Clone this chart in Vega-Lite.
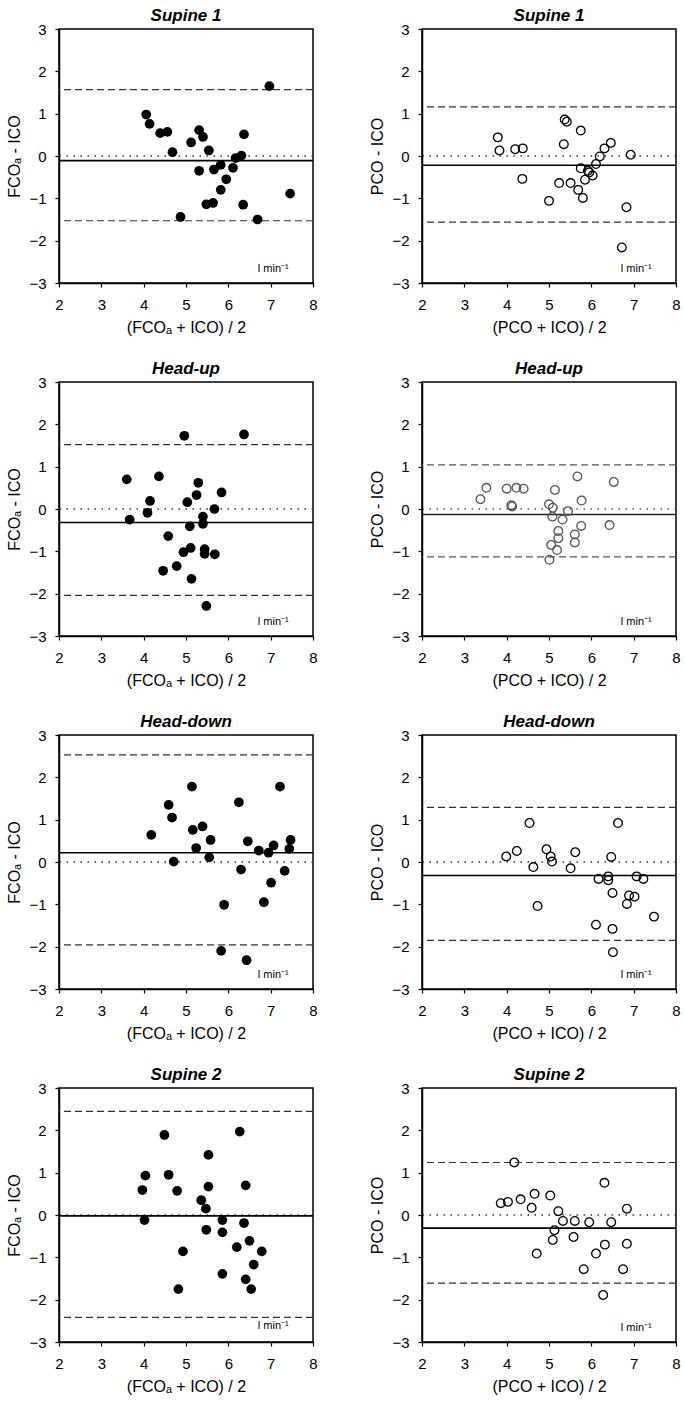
{
  "$schema": "https://vega.github.io/schema/vega-lite/v6.json",
  "background": "white",
  "padding": {"left": 6, "top": 6, "right": 5, "bottom": 5},
  "datasets": {
    "pts": [
      {"panel": "FS1", "x": 4.06, "y": 0.98}, {"panel": "FS1", "x": 4.14, "y": 0.76}, {"panel": "FS1", "x": 4.39, "y": 0.54}, {"panel": "FS1", "x": 4.56, "y": 0.57}, {"panel": "FS1", "x": 4.68, "y": 0.09}, {"panel": "FS1", "x": 4.87, "y": -1.44}, {"panel": "FS1", "x": 5.12, "y": 0.32}, {"panel": "FS1", "x": 5.31, "y": 0.61}, {"panel": "FS1", "x": 5.40, "y": 0.45}, {"panel": "FS1", "x": 5.31, "y": -0.35}, {"panel": "FS1", "x": 5.54, "y": 0.13}, {"panel": "FS1", "x": 5.48, "y": -1.14}, {"panel": "FS1", "x": 5.64, "y": -1.11}, {"panel": "FS1", "x": 5.66, "y": -0.32}, {"panel": "FS1", "x": 5.82, "y": -0.21}, {"panel": "FS1", "x": 5.82, "y": -0.80}, {"panel": "FS1", "x": 5.95, "y": -0.55}, {"panel": "FS1", "x": 6.11, "y": -0.28}, {"panel": "FS1", "x": 6.17, "y": -0.05}, {"panel": "FS1", "x": 6.31, "y": 0.01}, {"panel": "FS1", "x": 6.37, "y": 0.51}, {"panel": "FS1", "x": 6.35, "y": -1.15}, {"panel": "FS1", "x": 6.69, "y": -1.50}, {"panel": "FS1", "x": 6.97, "y": 1.65}, {"panel": "FS1", "x": 7.46, "y": -0.89},
      {"panel": "PS1", "x": 3.79, "y": 0.44}, {"panel": "PS1", "x": 3.83, "y": 0.13}, {"panel": "PS1", "x": 4.20, "y": 0.16}, {"panel": "PS1", "x": 4.38, "y": 0.18}, {"panel": "PS1", "x": 4.37, "y": -0.54}, {"panel": "PS1", "x": 5.00, "y": -1.06}, {"panel": "PS1", "x": 5.24, "y": -0.64}, {"panel": "PS1", "x": 5.35, "y": 0.28}, {"panel": "PS1", "x": 5.37, "y": 0.86}, {"panel": "PS1", "x": 5.42, "y": 0.81}, {"panel": "PS1", "x": 5.51, "y": -0.64}, {"panel": "PS1", "x": 5.69, "y": -0.80}, {"panel": "PS1", "x": 5.75, "y": 0.60}, {"panel": "PS1", "x": 5.75, "y": -0.29}, {"panel": "PS1", "x": 5.80, "y": -0.99}, {"panel": "PS1", "x": 5.85, "y": -0.56}, {"panel": "PS1", "x": 5.92, "y": -0.35}, {"panel": "PS1", "x": 5.95, "y": -0.39}, {"panel": "PS1", "x": 6.03, "y": -0.46}, {"panel": "PS1", "x": 6.11, "y": -0.19}, {"panel": "PS1", "x": 6.20, "y": -0.01}, {"panel": "PS1", "x": 6.31, "y": 0.18}, {"panel": "PS1", "x": 6.46, "y": 0.31}, {"panel": "PS1", "x": 6.93, "y": 0.03}, {"panel": "PS1", "x": 6.83, "y": -1.21}, {"panel": "PS1", "x": 6.72, "y": -2.16},
      {"panel": "FHU", "x": 3.60, "y": 0.70}, {"panel": "FHU", "x": 3.67, "y": -0.25}, {"panel": "FHU", "x": 4.09, "y": -0.09}, {"panel": "FHU", "x": 4.15, "y": 0.19}, {"panel": "FHU", "x": 4.36, "y": 0.77}, {"panel": "FHU", "x": 4.46, "y": -1.46}, {"panel": "FHU", "x": 4.58, "y": -0.64}, {"panel": "FHU", "x": 4.78, "y": -1.35}, {"panel": "FHU", "x": 4.96, "y": 1.73}, {"panel": "FHU", "x": 4.94, "y": -1.02}, {"panel": "FHU", "x": 5.03, "y": 0.16}, {"panel": "FHU", "x": 5.11, "y": -0.92}, {"panel": "FHU", "x": 5.09, "y": -0.41}, {"panel": "FHU", "x": 5.13, "y": -1.65}, {"panel": "FHU", "x": 5.25, "y": 0.33}, {"panel": "FHU", "x": 5.29, "y": 0.62}, {"panel": "FHU", "x": 5.40, "y": -0.18}, {"panel": "FHU", "x": 5.40, "y": -0.35}, {"panel": "FHU", "x": 5.44, "y": -0.95}, {"panel": "FHU", "x": 5.44, "y": -1.06}, {"panel": "FHU", "x": 5.48, "y": -2.29}, {"panel": "FHU", "x": 5.67, "y": 0.00}, {"panel": "FHU", "x": 5.68, "y": -1.07}, {"panel": "FHU", "x": 5.84, "y": 0.39}, {"panel": "FHU", "x": 6.37, "y": 1.76},
      {"panel": "PHU", "x": 3.38, "y": 0.23}, {"panel": "PHU", "x": 3.52, "y": 0.50}, {"panel": "PHU", "x": 4.00, "y": 0.48}, {"panel": "PHU", "x": 4.11, "y": 0.09}, {"panel": "PHU", "x": 4.13, "y": 0.06}, {"panel": "PHU", "x": 4.23, "y": 0.50}, {"panel": "PHU", "x": 4.40, "y": 0.48}, {"panel": "PHU", "x": 5.00, "y": 0.11}, {"panel": "PHU", "x": 5.09, "y": 0.03}, {"panel": "PHU", "x": 5.14, "y": 0.45}, {"panel": "PHU", "x": 5.08, "y": -0.18}, {"panel": "PHU", "x": 5.05, "y": -0.85}, {"panel": "PHU", "x": 5.01, "y": -1.20}, {"panel": "PHU", "x": 5.19, "y": -0.97}, {"panel": "PHU", "x": 5.22, "y": -0.52}, {"panel": "PHU", "x": 5.22, "y": -0.69}, {"panel": "PHU", "x": 5.32, "y": -0.25}, {"panel": "PHU", "x": 5.45, "y": -0.05}, {"panel": "PHU", "x": 5.61, "y": -0.60}, {"panel": "PHU", "x": 5.61, "y": -0.79}, {"panel": "PHU", "x": 5.67, "y": 0.77}, {"panel": "PHU", "x": 5.77, "y": 0.20}, {"panel": "PHU", "x": 5.76, "y": -0.40}, {"panel": "PHU", "x": 6.43, "y": -0.38}, {"panel": "PHU", "x": 6.53, "y": 0.64},
      {"panel": "FHD", "x": 4.18, "y": 0.64}, {"panel": "FHD", "x": 4.59, "y": 1.35}, {"panel": "FHD", "x": 4.67, "y": 1.05}, {"panel": "FHD", "x": 4.71, "y": 0.01}, {"panel": "FHD", "x": 5.14, "y": 1.78}, {"panel": "FHD", "x": 5.16, "y": 0.76}, {"panel": "FHD", "x": 5.24, "y": 0.33}, {"panel": "FHD", "x": 5.39, "y": 0.84}, {"panel": "FHD", "x": 5.58, "y": 0.52}, {"panel": "FHD", "x": 5.55, "y": 0.11}, {"panel": "FHD", "x": 5.90, "y": -1.01}, {"panel": "FHD", "x": 5.83, "y": -2.10}, {"panel": "FHD", "x": 6.25, "y": 1.41}, {"panel": "FHD", "x": 6.30, "y": -0.18}, {"panel": "FHD", "x": 6.46, "y": 0.49}, {"panel": "FHD", "x": 6.72, "y": 0.27}, {"panel": "FHD", "x": 6.95, "y": 0.22}, {"panel": "FHD", "x": 7.07, "y": 0.39}, {"panel": "FHD", "x": 7.01, "y": -0.49}, {"panel": "FHD", "x": 6.84, "y": -0.95}, {"panel": "FHD", "x": 6.43, "y": -2.32}, {"panel": "FHD", "x": 7.22, "y": 1.78}, {"panel": "FHD", "x": 7.33, "y": -0.21}, {"panel": "FHD", "x": 7.47, "y": 0.52}, {"panel": "FHD", "x": 7.44, "y": 0.31},
      {"panel": "PHD", "x": 3.99, "y": 0.13}, {"panel": "PHD", "x": 4.24, "y": 0.26}, {"panel": "PHD", "x": 4.54, "y": 0.92}, {"panel": "PHD", "x": 4.63, "y": -0.12}, {"panel": "PHD", "x": 4.73, "y": -1.04}, {"panel": "PHD", "x": 4.94, "y": 0.30}, {"panel": "PHD", "x": 5.04, "y": 0.13}, {"panel": "PHD", "x": 5.07, "y": 0.01}, {"panel": "PHD", "x": 5.51, "y": -0.15}, {"panel": "PHD", "x": 5.62, "y": 0.23}, {"panel": "PHD", "x": 6.17, "y": -0.40}, {"panel": "PHD", "x": 6.11, "y": -1.48}, {"panel": "PHD", "x": 6.40, "y": -0.34}, {"panel": "PHD", "x": 6.40, "y": -0.43}, {"panel": "PHD", "x": 6.47, "y": 0.12}, {"panel": "PHD", "x": 6.50, "y": -0.73}, {"panel": "PHD", "x": 6.50, "y": -1.58}, {"panel": "PHD", "x": 6.51, "y": -2.13}, {"panel": "PHD", "x": 6.63, "y": 0.92}, {"panel": "PHD", "x": 6.84, "y": -0.99}, {"panel": "PHD", "x": 6.89, "y": -0.79}, {"panel": "PHD", "x": 7.02, "y": -0.82}, {"panel": "PHD", "x": 7.07, "y": -0.34}, {"panel": "PHD", "x": 7.23, "y": -0.40}, {"panel": "PHD", "x": 7.48, "y": -1.29},
      {"panel": "FS2", "x": 3.97, "y": 0.59}, {"panel": "FS2", "x": 4.04, "y": 0.93}, {"panel": "FS2", "x": 4.02, "y": -0.12}, {"panel": "FS2", "x": 4.49, "y": 1.89}, {"panel": "FS2", "x": 4.59, "y": 0.95}, {"panel": "FS2", "x": 4.79, "y": 0.57}, {"panel": "FS2", "x": 4.82, "y": -1.75}, {"panel": "FS2", "x": 4.93, "y": -0.86}, {"panel": "FS2", "x": 5.36, "y": 0.35}, {"panel": "FS2", "x": 5.47, "y": 0.15}, {"panel": "FS2", "x": 5.48, "y": -0.35}, {"panel": "FS2", "x": 5.53, "y": 1.42}, {"panel": "FS2", "x": 5.53, "y": 0.67}, {"panel": "FS2", "x": 5.86, "y": -0.12}, {"panel": "FS2", "x": 5.86, "y": -0.41}, {"panel": "FS2", "x": 5.86, "y": -1.39}, {"panel": "FS2", "x": 6.27, "y": 1.97}, {"panel": "FS2", "x": 6.37, "y": -0.19}, {"panel": "FS2", "x": 6.41, "y": 0.70}, {"panel": "FS2", "x": 6.41, "y": -1.52}, {"panel": "FS2", "x": 6.20, "y": -0.76}, {"panel": "FS2", "x": 6.50, "y": -0.61}, {"panel": "FS2", "x": 6.54, "y": -1.75}, {"panel": "FS2", "x": 6.60, "y": -1.17}, {"panel": "FS2", "x": 6.79, "y": -0.86},
      {"panel": "PS2", "x": 3.86, "y": 0.28}, {"panel": "PS2", "x": 4.03, "y": 0.31}, {"panel": "PS2", "x": 4.33, "y": 0.37}, {"panel": "PS2", "x": 4.18, "y": 1.24}, {"panel": "PS2", "x": 4.59, "y": 0.17}, {"panel": "PS2", "x": 4.66, "y": 0.50}, {"panel": "PS2", "x": 4.71, "y": -0.91}, {"panel": "PS2", "x": 5.03, "y": 0.46}, {"panel": "PS2", "x": 5.22, "y": 0.09}, {"panel": "PS2", "x": 5.33, "y": -0.14}, {"panel": "PS2", "x": 5.13, "y": -0.36}, {"panel": "PS2", "x": 5.09, "y": -0.59}, {"panel": "PS2", "x": 5.61, "y": -0.14}, {"panel": "PS2", "x": 5.58, "y": -0.52}, {"panel": "PS2", "x": 5.82, "y": -1.28}, {"panel": "PS2", "x": 5.95, "y": -0.17}, {"panel": "PS2", "x": 6.11, "y": -0.91}, {"panel": "PS2", "x": 6.31, "y": 0.76}, {"panel": "PS2", "x": 6.32, "y": -0.70}, {"panel": "PS2", "x": 6.28, "y": -1.89}, {"panel": "PS2", "x": 6.47, "y": -0.17}, {"panel": "PS2", "x": 6.84, "y": 0.15}, {"panel": "PS2", "x": 6.84, "y": -0.68}, {"panel": "PS2", "x": 6.75, "y": -1.28}
    ],
    "lines": [
      {"panel": "FS1", "kind": "loa", "y": 1.57}, {"panel": "FS1", "kind": "mean", "y": -0.11}, {"panel": "FS1", "kind": "loa", "y": -1.53},
      {"panel": "PS1", "kind": "loa", "y": 1.16}, {"panel": "PS1", "kind": "mean", "y": -0.22}, {"panel": "PS1", "kind": "loa", "y": -1.56},
      {"panel": "FHU", "kind": "loa", "y": 1.52}, {"panel": "FHU", "kind": "mean", "y": -0.32}, {"panel": "FHU", "kind": "loa", "y": -2.04},
      {"panel": "PHU", "kind": "loa", "y": 1.04}, {"panel": "PHU", "kind": "mean", "y": -0.13}, {"panel": "PHU", "kind": "loa", "y": -1.13},
      {"panel": "FHD", "kind": "loa", "y": 2.53}, {"panel": "FHD", "kind": "mean", "y": 0.22}, {"panel": "FHD", "kind": "loa", "y": -1.96},
      {"panel": "PHD", "kind": "loa", "y": 1.29}, {"panel": "PHD", "kind": "mean", "y": -0.32}, {"panel": "PHD", "kind": "loa", "y": -1.85},
      {"panel": "FS2", "kind": "loa", "y": 2.45}, {"panel": "FS2", "kind": "mean", "y": -0.02}, {"panel": "FS2", "kind": "loa", "y": -2.42},
      {"panel": "PS2", "kind": "loa", "y": 1.24}, {"panel": "PS2", "kind": "mean", "y": -0.31}, {"panel": "PS2", "kind": "loa", "y": -1.61}
    ]
  },
  "columns": 2,
  "spacing": {"row": 23, "column": 51},
  "concat": [
    {
      "title": "Supine 1", "width": 254, "height": 254,
      "layer": [
        {"data": {"values": [{}]}, "mark": {"type": "rule", "strokeDash": [1.5, 5.5], "strokeWidth": 1.3, "color": "#333"}, "encoding": {"y": {"datum": 0, "type": "quantitative"}}},
        {"data": {"name": "lines"}, "transform": [{"filter": "datum.panel === 'FS1' && datum.kind === 'loa'"}], "mark": {"type": "rule", "strokeDash": [7, 4], "strokeWidth": 1.2, "color": "#333"}, "encoding": {"y": {"field": "y", "type": "quantitative"}}},
        {"data": {"name": "lines"}, "transform": [{"filter": "datum.panel === 'FS1' && datum.kind === 'mean'"}], "mark": {"type": "rule", "strokeWidth": 1.6, "color": "#000"}, "encoding": {"y": {"field": "y", "type": "quantitative"}}},
        {"data": {"name": "pts"}, "transform": [{"filter": "datum.panel === 'FS1'"}], "mark": {"type": "circle", "size": 95, "opacity": 1, "color": "#000"},
          "encoding": {"x": {"field": "x", "type": "quantitative", "scale": {"domain": [2, 8]}, "axis": {"title": "(FCOₐ + ICO) / 2"}}, "y": {"field": "y", "type": "quantitative", "scale": {"domain": [-3, 3]}, "axis": {"title": "FCOₐ - ICO"}}}},
        {"data": {"values": [{}]}, "mark": {"type": "text", "fontSize": 11, "color": "#000"}, "encoding": {"x": {"datum": 7.06}, "y": {"datum": -2.67}, "text": {"value": "l min⁻¹"}}}
      ]
    },
    {
      "title": "Supine 1", "width": 254, "height": 254,
      "layer": [
        {"data": {"values": [{}]}, "mark": {"type": "rule", "strokeDash": [1.5, 5.5], "strokeWidth": 1.3, "color": "#333"}, "encoding": {"y": {"datum": 0, "type": "quantitative"}}},
        {"data": {"name": "lines"}, "transform": [{"filter": "datum.panel === 'PS1' && datum.kind === 'loa'"}], "mark": {"type": "rule", "strokeDash": [7, 4], "strokeWidth": 1.2, "color": "#333"}, "encoding": {"y": {"field": "y", "type": "quantitative"}}},
        {"data": {"name": "lines"}, "transform": [{"filter": "datum.panel === 'PS1' && datum.kind === 'mean'"}], "mark": {"type": "rule", "strokeWidth": 1.6, "color": "#000"}, "encoding": {"y": {"field": "y", "type": "quantitative"}}},
        {"data": {"name": "pts"}, "transform": [{"filter": "datum.panel === 'PS1'"}], "mark": {"type": "point", "shape": "circle", "size": 75, "filled": false, "strokeWidth": 1.3, "color": "#000", "opacity": 1},
          "encoding": {"x": {"field": "x", "type": "quantitative", "scale": {"domain": [2, 8]}, "axis": {"title": "(PCO + ICO) / 2"}}, "y": {"field": "y", "type": "quantitative", "scale": {"domain": [-3, 3]}, "axis": {"title": "PCO - ICO"}}}},
        {"data": {"values": [{}]}, "mark": {"type": "text", "fontSize": 11, "color": "#000"}, "encoding": {"x": {"datum": 7.06}, "y": {"datum": -2.67}, "text": {"value": "l min⁻¹"}}}
      ]
    },
    {
      "title": "Head-up", "width": 254, "height": 254,
      "layer": [
        {"data": {"values": [{}]}, "mark": {"type": "rule", "strokeDash": [1.5, 5.5], "strokeWidth": 1.3, "color": "#333"}, "encoding": {"y": {"datum": 0, "type": "quantitative"}}},
        {"data": {"name": "lines"}, "transform": [{"filter": "datum.panel === 'FHU' && datum.kind === 'loa'"}], "mark": {"type": "rule", "strokeDash": [7, 4], "strokeWidth": 1.2, "color": "#333"}, "encoding": {"y": {"field": "y", "type": "quantitative"}}},
        {"data": {"name": "lines"}, "transform": [{"filter": "datum.panel === 'FHU' && datum.kind === 'mean'"}], "mark": {"type": "rule", "strokeWidth": 1.6, "color": "#000"}, "encoding": {"y": {"field": "y", "type": "quantitative"}}},
        {"data": {"name": "pts"}, "transform": [{"filter": "datum.panel === 'FHU'"}], "mark": {"type": "circle", "size": 95, "opacity": 1, "color": "#000"},
          "encoding": {"x": {"field": "x", "type": "quantitative", "scale": {"domain": [2, 8]}, "axis": {"title": "(FCOₐ + ICO) / 2"}}, "y": {"field": "y", "type": "quantitative", "scale": {"domain": [-3, 3]}, "axis": {"title": "FCOₐ - ICO"}}}},
        {"data": {"values": [{}]}, "mark": {"type": "text", "fontSize": 11, "color": "#000"}, "encoding": {"x": {"datum": 7.06}, "y": {"datum": -2.67}, "text": {"value": "l min⁻¹"}}}
      ]
    },
    {
      "title": "Head-up", "width": 254, "height": 254,
      "layer": [
        {"data": {"values": [{}]}, "mark": {"type": "rule", "strokeDash": [1.5, 5.5], "strokeWidth": 1.3, "color": "#555"}, "encoding": {"y": {"datum": 0, "type": "quantitative"}}},
        {"data": {"name": "lines"}, "transform": [{"filter": "datum.panel === 'PHU' && datum.kind === 'loa'"}], "mark": {"type": "rule", "strokeDash": [7, 4], "strokeWidth": 1.2, "color": "#555"}, "encoding": {"y": {"field": "y", "type": "quantitative"}}},
        {"data": {"name": "lines"}, "transform": [{"filter": "datum.panel === 'PHU' && datum.kind === 'mean'"}], "mark": {"type": "rule", "strokeWidth": 1.6, "color": "#222"}, "encoding": {"y": {"field": "y", "type": "quantitative"}}},
        {"data": {"name": "pts"}, "transform": [{"filter": "datum.panel === 'PHU'"}], "mark": {"type": "point", "shape": "circle", "size": 75, "filled": false, "strokeWidth": 1.3, "color": "#555", "opacity": 1},
          "encoding": {"x": {"field": "x", "type": "quantitative", "scale": {"domain": [2, 8]}, "axis": {"title": "(PCO + ICO) / 2"}}, "y": {"field": "y", "type": "quantitative", "scale": {"domain": [-3, 3]}, "axis": {"title": "PCO - ICO"}}}},
        {"data": {"values": [{}]}, "mark": {"type": "text", "fontSize": 11, "color": "#000"}, "encoding": {"x": {"datum": 7.06}, "y": {"datum": -2.67}, "text": {"value": "l min⁻¹"}}}
      ]
    },
    {
      "title": "Head-down", "width": 254, "height": 254,
      "layer": [
        {"data": {"values": [{}]}, "mark": {"type": "rule", "strokeDash": [1.5, 5.5], "strokeWidth": 1.3, "color": "#333"}, "encoding": {"y": {"datum": 0, "type": "quantitative"}}},
        {"data": {"name": "lines"}, "transform": [{"filter": "datum.panel === 'FHD' && datum.kind === 'loa'"}], "mark": {"type": "rule", "strokeDash": [7, 4], "strokeWidth": 1.2, "color": "#333"}, "encoding": {"y": {"field": "y", "type": "quantitative"}}},
        {"data": {"name": "lines"}, "transform": [{"filter": "datum.panel === 'FHD' && datum.kind === 'mean'"}], "mark": {"type": "rule", "strokeWidth": 1.6, "color": "#000"}, "encoding": {"y": {"field": "y", "type": "quantitative"}}},
        {"data": {"name": "pts"}, "transform": [{"filter": "datum.panel === 'FHD'"}], "mark": {"type": "circle", "size": 95, "opacity": 1, "color": "#000"},
          "encoding": {"x": {"field": "x", "type": "quantitative", "scale": {"domain": [2, 8]}, "axis": {"title": "(FCOₐ + ICO) / 2"}}, "y": {"field": "y", "type": "quantitative", "scale": {"domain": [-3, 3]}, "axis": {"title": "FCOₐ - ICO"}}}},
        {"data": {"values": [{}]}, "mark": {"type": "text", "fontSize": 11, "color": "#000"}, "encoding": {"x": {"datum": 7.06}, "y": {"datum": -2.67}, "text": {"value": "l min⁻¹"}}}
      ]
    },
    {
      "title": "Head-down", "width": 254, "height": 254,
      "layer": [
        {"data": {"values": [{}]}, "mark": {"type": "rule", "strokeDash": [1.5, 5.5], "strokeWidth": 1.3, "color": "#333"}, "encoding": {"y": {"datum": 0, "type": "quantitative"}}},
        {"data": {"name": "lines"}, "transform": [{"filter": "datum.panel === 'PHD' && datum.kind === 'loa'"}], "mark": {"type": "rule", "strokeDash": [7, 4], "strokeWidth": 1.2, "color": "#333"}, "encoding": {"y": {"field": "y", "type": "quantitative"}}},
        {"data": {"name": "lines"}, "transform": [{"filter": "datum.panel === 'PHD' && datum.kind === 'mean'"}], "mark": {"type": "rule", "strokeWidth": 1.6, "color": "#000"}, "encoding": {"y": {"field": "y", "type": "quantitative"}}},
        {"data": {"name": "pts"}, "transform": [{"filter": "datum.panel === 'PHD'"}], "mark": {"type": "point", "shape": "circle", "size": 75, "filled": false, "strokeWidth": 1.3, "color": "#000", "opacity": 1},
          "encoding": {"x": {"field": "x", "type": "quantitative", "scale": {"domain": [2, 8]}, "axis": {"title": "(PCO + ICO) / 2"}}, "y": {"field": "y", "type": "quantitative", "scale": {"domain": [-3, 3]}, "axis": {"title": "PCO - ICO"}}}},
        {"data": {"values": [{}]}, "mark": {"type": "text", "fontSize": 11, "color": "#000"}, "encoding": {"x": {"datum": 7.06}, "y": {"datum": -2.67}, "text": {"value": "l min⁻¹"}}}
      ]
    },
    {
      "title": "Supine 2", "width": 254, "height": 254,
      "layer": [
        {"data": {"values": [{}]}, "mark": {"type": "rule", "strokeDash": [1.5, 5.5], "strokeWidth": 1.3, "color": "#333"}, "encoding": {"y": {"datum": 0, "type": "quantitative"}}},
        {"data": {"name": "lines"}, "transform": [{"filter": "datum.panel === 'FS2' && datum.kind === 'loa'"}], "mark": {"type": "rule", "strokeDash": [7, 4], "strokeWidth": 1.2, "color": "#333"}, "encoding": {"y": {"field": "y", "type": "quantitative"}}},
        {"data": {"name": "lines"}, "transform": [{"filter": "datum.panel === 'FS2' && datum.kind === 'mean'"}], "mark": {"type": "rule", "strokeWidth": 1.6, "color": "#000"}, "encoding": {"y": {"field": "y", "type": "quantitative"}}},
        {"data": {"name": "pts"}, "transform": [{"filter": "datum.panel === 'FS2'"}], "mark": {"type": "circle", "size": 95, "opacity": 1, "color": "#000"},
          "encoding": {"x": {"field": "x", "type": "quantitative", "scale": {"domain": [2, 8]}, "axis": {"title": "(FCOₐ + ICO) / 2"}}, "y": {"field": "y", "type": "quantitative", "scale": {"domain": [-3, 3]}, "axis": {"title": "FCOₐ - ICO"}}}},
        {"data": {"values": [{}]}, "mark": {"type": "text", "fontSize": 11, "color": "#000"}, "encoding": {"x": {"datum": 7.06}, "y": {"datum": -2.62}, "text": {"value": "l min⁻¹"}}}
      ]
    },
    {
      "title": "Supine 2", "width": 254, "height": 254,
      "layer": [
        {"data": {"values": [{}]}, "mark": {"type": "rule", "strokeDash": [1.5, 5.5], "strokeWidth": 1.3, "color": "#333"}, "encoding": {"y": {"datum": 0, "type": "quantitative"}}},
        {"data": {"name": "lines"}, "transform": [{"filter": "datum.panel === 'PS2' && datum.kind === 'loa'"}], "mark": {"type": "rule", "strokeDash": [7, 4], "strokeWidth": 1.2, "color": "#333"}, "encoding": {"y": {"field": "y", "type": "quantitative"}}},
        {"data": {"name": "lines"}, "transform": [{"filter": "datum.panel === 'PS2' && datum.kind === 'mean'"}], "mark": {"type": "rule", "strokeWidth": 1.6, "color": "#000"}, "encoding": {"y": {"field": "y", "type": "quantitative"}}},
        {"data": {"name": "pts"}, "transform": [{"filter": "datum.panel === 'PS2'"}], "mark": {"type": "point", "shape": "circle", "size": 75, "filled": false, "strokeWidth": 1.3, "color": "#000", "opacity": 1},
          "encoding": {"x": {"field": "x", "type": "quantitative", "scale": {"domain": [2, 8]}, "axis": {"title": "(PCO + ICO) / 2"}}, "y": {"field": "y", "type": "quantitative", "scale": {"domain": [-3, 3]}, "axis": {"title": "PCO - ICO"}}}},
        {"data": {"values": [{}]}, "mark": {"type": "text", "fontSize": 11, "color": "#000"}, "encoding": {"x": {"datum": 7.06}, "y": {"datum": -2.67}, "text": {"value": "l min⁻¹"}}}
      ]
    }
  ],
  "config": {
    "font": "Liberation Sans",
    "view": {"stroke": "#000", "strokeWidth": 1.5},
    "axis": {"grid": false, "domainColor": "#000", "domainWidth": 1.5, "tickColor": "#000", "tickWidth": 1.2, "tickSize": 4, "labelFontSize": 15, "labelColor": "#000", "labelFont": "Liberation Sans", "titleFontSize": 16, "titleFontWeight": "normal", "titleColor": "#000", "titleFont": "Liberation Sans"},
    "axisX": {"values": [2, 3, 4, 5, 6, 7, 8], "labelPadding": 10, "titlePadding": 7, "labelFlush": false},
    "axisY": {"values": [-3, -2, -1, 0, 1, 2, 3], "labelPadding": 9, "titlePadding": 6},
    "title": {"fontSize": 17, "fontStyle": "italic", "fontWeight": "bold", "font": "Liberation Sans", "color": "#000", "offset": -3}
  }
}
